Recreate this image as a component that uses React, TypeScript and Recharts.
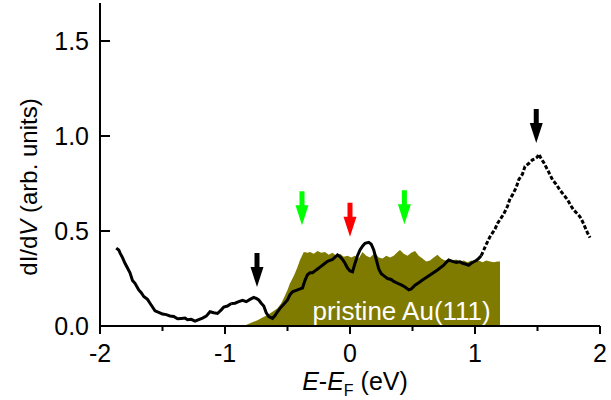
import React from "react";
import {
  ComposedChart,
  XAxis,
  YAxis,
  Line,
  Area,
  Scatter,
  ReferenceDot,
  Label,
} from "recharts";

// ---- data ----
const X_TICKS = [-2, -1.5, -1, -0.5, 0, 0.5, 1, 1.5, 2];
const Y_TICKS = [0, 0.5, 1, 1.5];

const CURVE_LEFT = [
  [-1.87, 0.41], [-1.85, 0.4], [-1.84, 0.385], [-1.82, 0.36], [-1.8, 0.33], [-1.78, 0.305],
  [-1.76, 0.28], [-1.74, 0.24], [-1.72, 0.225], [-1.69, 0.19], [-1.67, 0.175],
  [-1.65, 0.155], [-1.62, 0.14], [-1.6, 0.12], [-1.58, 0.1], [-1.56, 0.08],
  [-1.53, 0.072], [-1.5, 0.063], [-1.47, 0.06], [-1.44, 0.053], [-1.41, 0.05],
  [-1.38, 0.038], [-1.35, 0.04], [-1.32, 0.042], [-1.3, 0.033], [-1.27, 0.035],
  [-1.24, 0.026], [-1.21, 0.034], [-1.18, 0.042], [-1.15, 0.052], [-1.12, 0.075],
  [-1.09, 0.07], [-1.06, 0.066], [-1.03, 0.085], [-1.01, 0.1], [-0.98, 0.105],
  [-0.95, 0.118],
].map(([x, y]) => ({ x, y }));

const CURVE_MID = [
  [-0.95, 0.118], [-0.92, 0.12], [-0.89, 0.128], [-0.86, 0.135], [-0.83, 0.128],
  [-0.8, 0.14], [-0.77, 0.15], [-0.75, 0.145], [-0.73, 0.137], [-0.71, 0.12],
  [-0.69, 0.105], [-0.67, 0.07], [-0.65, 0.05], [-0.62, 0.04], [-0.6, 0.055],
  [-0.58, 0.075], [-0.56, 0.093], [-0.53, 0.115], [-0.5, 0.137], [-0.48, 0.165],
  [-0.46, 0.18], [-0.43, 0.188], [-0.4, 0.195], [-0.38, 0.2], [-0.36, 0.24],
  [-0.34, 0.27], [-0.32, 0.28], [-0.3, 0.28], [-0.28, 0.29], [-0.26, 0.3],
  [-0.24, 0.31], [-0.21, 0.325], [-0.18, 0.34], [-0.16, 0.345], [-0.14, 0.35],
  [-0.12, 0.362], [-0.1, 0.374], [-0.08, 0.365], [-0.06, 0.35], [-0.04, 0.33],
  [-0.02, 0.305], [0.0, 0.29], [0.02, 0.285], [0.04, 0.33], [0.06, 0.37],
  [0.08, 0.4], [0.1, 0.42], [0.12, 0.435], [0.15, 0.44], [0.17, 0.43],
  [0.19, 0.4], [0.21, 0.35], [0.23, 0.3], [0.25, 0.275], [0.28, 0.26],
  [0.3, 0.25], [0.33, 0.245], [0.35, 0.235], [0.38, 0.225], [0.41, 0.216],
  [0.44, 0.205], [0.47, 0.19], [0.49, 0.195], [0.52, 0.215], [0.55, 0.228],
  [0.58, 0.242], [0.61, 0.255], [0.64, 0.268], [0.67, 0.282], [0.7, 0.295],
  [0.72, 0.305], [0.75, 0.32], [0.77, 0.335], [0.79, 0.347], [0.82, 0.34],
  [0.85, 0.335], [0.88, 0.338], [0.9, 0.33], [0.93, 0.325], [0.95, 0.32],
  [0.97, 0.33], [0.99, 0.338], [1.01, 0.345], [1.03, 0.356], [1.05, 0.37],
].map(([x, y]) => ({ x, y }));

const CURVE_RIGHT = [
  [1.05, 0.37], [1.07, 0.4], [1.09, 0.43], [1.12, 0.47], [1.14, 0.49],
  [1.16, 0.51], [1.18, 0.54], [1.2, 0.56], [1.23, 0.59], [1.26, 0.63],
  [1.28, 0.67], [1.3, 0.69], [1.33, 0.73], [1.35, 0.77], [1.38, 0.8],
  [1.4, 0.84], [1.43, 0.855], [1.46, 0.875], [1.48, 0.88], [1.5, 0.89],
  [1.51, 0.905], [1.53, 0.88], [1.55, 0.86], [1.57, 0.835], [1.59, 0.81],
  [1.62, 0.77], [1.65, 0.745], [1.68, 0.715], [1.71, 0.69], [1.74, 0.665],
  [1.77, 0.63], [1.79, 0.61], [1.82, 0.59], [1.84, 0.575], [1.86, 0.55],
  [1.88, 0.52], [1.9, 0.49], [1.92, 0.465],
].map(([x, y]) => ({ x, y }));

const PRISTINE = [
  [-0.85, 0.0], [-0.8, 0.015], [-0.74, 0.03], [-0.7, 0.045], [-0.66, 0.058],
  [-0.62, 0.075], [-0.58, 0.093], [-0.55, 0.12], [-0.53, 0.146], [-0.5, 0.19],
  [-0.48, 0.225], [-0.46, 0.25], [-0.44, 0.277], [-0.42, 0.31], [-0.4, 0.347],
  [-0.38, 0.375], [-0.37, 0.39], [-0.34, 0.385], [-0.32, 0.39], [-0.29, 0.38],
  [-0.26, 0.395], [-0.23, 0.385], [-0.2, 0.39], [-0.17, 0.375], [-0.14, 0.385],
  [-0.11, 0.37], [-0.08, 0.38], [-0.05, 0.365], [-0.02, 0.37], [0.01, 0.36],
  [0.04, 0.37], [0.07, 0.355], [0.1, 0.39], [0.13, 0.37], [0.16, 0.36],
  [0.2, 0.385], [0.23, 0.36], [0.26, 0.355], [0.29, 0.37], [0.32, 0.36],
  [0.35, 0.37], [0.38, 0.39], [0.4, 0.4], [0.43, 0.38], [0.46, 0.37],
  [0.49, 0.385], [0.52, 0.395], [0.55, 0.37], [0.58, 0.355], [0.61, 0.34],
  [0.64, 0.345], [0.67, 0.36], [0.7, 0.375], [0.73, 0.355], [0.76, 0.345],
  [0.79, 0.35], [0.82, 0.345], [0.85, 0.35], [0.88, 0.34], [0.91, 0.345],
  [0.94, 0.335], [0.97, 0.345], [1.0, 0.34], [1.03, 0.345], [1.06, 0.335],
  [1.09, 0.345], [1.12, 0.34], [1.15, 0.335], [1.18, 0.34], [1.2, 0.34],
].map(([x, y]) => ({ x, y }));

// arrow tips (x, y)
const BLACK_ARROWS = [{ x: -0.744, y: 0.205 }, { x: 1.49, y: 0.963 }];
const GREEN_ARROWS = [{ x: -0.384, y: 0.53 }, { x: 0.435, y: 0.535 }];
const RED_ARROWS = [{ x: 0.0, y: 0.47 }];

const PRISTINE_LABEL = { x: -0.3, y: 0.032, text: "pristine Au(111)" };

const FONT = "'Liberation Sans', Arial, sans-serif";

const XTick = (props: any) => {
  const { x, y, payload } = props;
  const v = payload.value;
  const major = Number.isInteger(v);
  return (
    <g>
      <line x1={x} x2={x} y1={y} y2={y + (major ? 8 : 5)} stroke="#000" strokeWidth={2} />
      {major && (
        <text x={x} y={y + 36} textAnchor="middle" fontSize={25} fontFamily={FONT} fill="#000">
          {String(v)}
        </text>
      )}
    </g>
  );
};

const YTick = (props: any) => {
  const { x, y, payload } = props;
  const v = payload.value;
  return (
    <g>
      <line x1={x} x2={x + 10} y1={y} y2={y} stroke="#000" strokeWidth={2} />
      <text x={x - 11} y={y + 9} textAnchor="end" fontSize={25} fontFamily={FONT} fill="#000">
        {v.toFixed(1)}
      </text>
    </g>
  );
};

const ArrowShape = (fill: string) => (props: any) => {
  const { cx, cy } = props;
  if (cx == null || cy == null) return <g />;
  const path = `M ${cx - 2.5} ${cy - 34} L ${cx + 2.5} ${cy - 34} L ${cx + 2.5} ${cy - 20} L ${cx + 6.5} ${cy - 20} L ${cx} ${cy} L ${cx - 6.5} ${cy - 20} L ${cx - 2.5} ${cy - 20} Z`;
  return <path d={path} fill={fill} stroke="none" />;
};

const XTitle = (props: any) => {
  const vb = props.viewBox || {};
  const cx = (vb.x ?? 100) + (vb.width ?? 500) / 2 + 5;
  const top = vb.y ?? 326;
  return (
    <text x={cx} y={top + 64} textAnchor="middle" fontSize={25} fontFamily={FONT} fill="#000">
      <tspan fontStyle="italic">E</tspan>
      <tspan>-</tspan>
      <tspan fontStyle="italic">E</tspan>
      <tspan fontSize={16} dy={6}>F</tspan>
      <tspan dy={-6}> (eV)</tspan>
    </text>
  );
};

const YTitle = () => (
  <text
    x={37}
    y={187}
    transform="rotate(-90, 37, 187)"
    textAnchor="middle"
    fontSize={24}
    fontFamily={FONT}
    fill="#000"
  >
    <tspan>dI/d</tspan>
    <tspan fontStyle="italic">V</tspan>
    <tspan> (arb. units)</tspan>
  </text>
);

const PristineText = (props: any) => {
  const { cx, cy } = props;
  if (cx == null || cy == null) return <g />;
  return (
    <text x={cx} y={cy} textAnchor="start" fontSize={26} fontFamily={FONT} fill="#ffffff">
      {PRISTINE_LABEL.text}
    </text>
  );
};

export default function App() {
  return (
    <div style={{ position: "absolute", left: 0, top: 0, background: "#fff" }}>
      <ComposedChart
        width={611}
        height={400}
        margin={{ top: 3, right: 11, bottom: 0, left: 0 }}
      >
        <XAxis
          type="number"
          dataKey="x"
          domain={[-2, 2]}
          ticks={X_TICKS}
          interval={0}
          allowDataOverflow
          height={74}
          tickSize={0}
          tickMargin={0}
          tickLine={false}
          axisLine={{ stroke: "#000", strokeWidth: 2 }}
          tick={<XTick />}
          label={<Label content={<XTitle />} />}
        />
        <YAxis
          type="number"
          dataKey="y"
          domain={[0, 1.7]}
          ticks={Y_TICKS}
          interval={0}
          allowDataOverflow
          width={100}
          tickSize={0}
          tickMargin={0}
          tickLine={false}
          axisLine={{ stroke: "#000", strokeWidth: 2 }}
          tick={<YTick />}
          label={<Label content={<YTitle />} />}
        />
        <Area
          data={PRISTINE}
          dataKey="y"
          type="linear"
          stroke="none"
          fill="#7f7b00"
          fillOpacity={1}
          baseValue={0}
          isAnimationActive={false}
          dot={false}
          activeDot={false}
        />
        <Line
          data={CURVE_LEFT}
          dataKey="y"
          type="linear"
          stroke="#000"
          strokeWidth={3}
          dot={false}
          activeDot={false}
          isAnimationActive={false}
        />
        <Line
          data={CURVE_MID}
          dataKey="y"
          type="linear"
          stroke="#000"
          strokeWidth={3}
          dot={false}
          activeDot={false}
          isAnimationActive={false}
        />
        <Line
          data={CURVE_RIGHT}
          dataKey="y"
          type="linear"
          stroke="#000"
          strokeWidth={3}
          strokeDasharray="4 2"
          dot={false}
          activeDot={false}
          isAnimationActive={false}
        />
        <Scatter data={BLACK_ARROWS} dataKey="y" shape={ArrowShape("#000")} isAnimationActive={false} />
        <Scatter data={GREEN_ARROWS} dataKey="y" shape={ArrowShape("#00ff00")} isAnimationActive={false} />
        <Scatter data={RED_ARROWS} dataKey="y" shape={ArrowShape("#ff0000")} isAnimationActive={false} />
        <ReferenceDot
          x={PRISTINE_LABEL.x}
          y={PRISTINE_LABEL.y}
          r={0}
          shape={<PristineText />}
          ifOverflow="visible"
        />
      </ComposedChart>
    </div>
  );
}
